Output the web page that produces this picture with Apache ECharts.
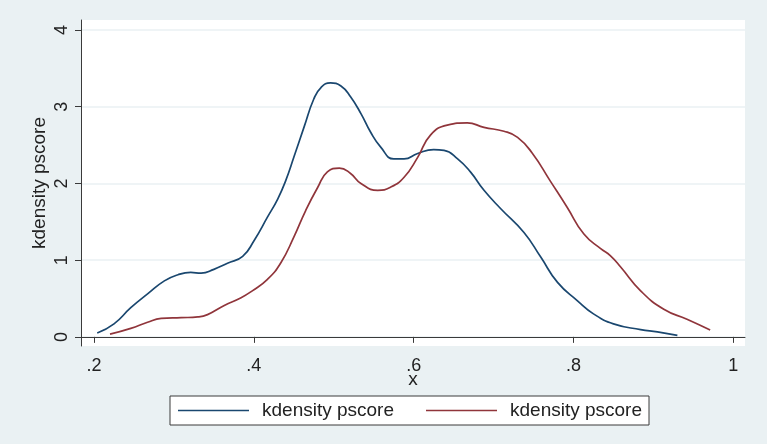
<!DOCTYPE html>
<html>
<head>
<meta charset="utf-8">
<script src="https://cdn.jsdelivr.net/npm/echarts@6/dist/echarts.min.js"></script>
<style>
  html, body { margin: 0; padding: 0; background: #ffffff; }
  #chart { width: 767px; height: 444px; }
</style>
</head>
<body>
<div id="chart"></div>
<script>
// Kernel density estimates of the propensity score, two groups
const seriesNames = ['kdensity pscore', 'kdensity pscore'];

const xTicks = [0.2, 0.4, 0.6, 0.8, 1];
const yTicks = [0, 1, 2, 3, 4];

// [pscore, density] pairs
const densityA = [
  [0.204, 0.05], [0.225, 0.17], [0.246, 0.38], [0.267, 0.56], [0.288, 0.73],
  [0.305, 0.81], [0.321, 0.84], [0.334, 0.83], [0.350, 0.88], [0.367, 0.96],
  [0.386, 1.05], [0.400, 1.25], [0.417, 1.56], [0.430, 1.80], [0.440, 2.04],
  [0.450, 2.34], [0.463, 2.74], [0.475, 3.10], [0.484, 3.25], [0.496, 3.31],
  [0.509, 3.27], [0.521, 3.13], [0.534, 2.91], [0.546, 2.67], [0.559, 2.47],
  [0.575, 2.32], [0.588, 2.32], [0.605, 2.39], [0.625, 2.44], [0.638, 2.43],
  [0.655, 2.32], [0.671, 2.15], [0.688, 1.91], [0.709, 1.67], [0.738, 1.36],
  [0.759, 1.04], [0.780, 0.71], [0.805, 0.47], [0.825, 0.30], [0.850, 0.17],
  [0.884, 0.095], [0.905, 0.065], [0.930, 0.02]
];

const densityB = [
  [0.220, 0.035], [0.246, 0.11], [0.267, 0.19], [0.284, 0.24], [0.309, 0.25],
  [0.330, 0.26], [0.342, 0.29], [0.363, 0.41], [0.384, 0.51], [0.398, 0.60],
  [0.417, 0.75], [0.434, 0.97], [0.450, 1.30], [0.465, 1.65], [0.480, 1.95],
  [0.492, 2.15], [0.507, 2.20], [0.521, 2.13], [0.534, 2.00], [0.555, 1.91],
  [0.571, 1.95], [0.588, 2.08], [0.605, 2.34], [0.621, 2.63], [0.642, 2.76],
  [0.667, 2.79], [0.688, 2.73], [0.713, 2.68], [0.730, 2.60], [0.748, 2.40],
  [0.771, 2.03], [0.792, 1.69], [0.813, 1.34], [0.834, 1.15], [0.846, 1.06],
  [0.859, 0.91], [0.884, 0.60], [0.913, 0.36], [0.942, 0.23], [0.971, 0.09]
];

const colors = ['#1a476f', '#90353b'];
const fontFamily = 'Liberation Sans, Arial, sans-serif';

// Stata-style tick text: drop the leading zero (".2", ".4", "1")
function tickText(v) {
  const s = String(Number(v.toFixed(2)));
  return s.replace(/^0\./, '.');
}

const chart = echarts.init(document.getElementById('chart'), null, { renderer: 'canvas' });

chart.setOption({
  animation: false,
  backgroundColor: '#eaf1f3',
  color: colors,
  grid: {
    left: 81, right: 22, top: 20, bottom: 98,
    show: true, backgroundColor: '#ffffff', borderWidth: 0
  },
  xAxis: {
    type: 'value',
    min: 0.1837, max: 1.0146,
    name: 'x',
    nameLocation: 'middle',
    nameGap: 24,
    nameMoveOverlap: false,
    nameTextStyle: { color: '#222', fontSize: 19, fontFamily },
    axisLine: { show: true, lineStyle: { color: '#3a3a3a', width: 1 } },
    axisTick: { show: true, length: 6, customValues: xTicks, lineStyle: { color: '#3a3a3a' } },
    axisLabel: {
      customValues: xTicks, margin: 11, color: '#222', fontSize: 18, fontFamily,
      formatter: tickText
    },
    splitLine: { show: false }
  },
  yAxis: {
    type: 'value',
    min: -0.119, max: 4.13,
    name: 'kdensity pscore',
    nameLocation: 'middle',
    nameGap: 32,
    nameMoveOverlap: false,
    nameRotate: 90,
    nameTextStyle: { color: '#222', fontSize: 19, fontFamily },
    axisLine: { show: true, lineStyle: { color: '#3a3a3a', width: 1 } },
    axisTick: { show: true, length: 6, customValues: yTicks, lineStyle: { color: '#3a3a3a' } },
    axisLabel: {
      customValues: yTicks, rotate: 90, margin: 10, color: '#222', fontSize: 18, fontFamily,
      formatter: tickText
    },
    splitLine: { show: true, lineStyle: { color: '#eaf1f3', width: 1.5 } }
  },
  legend: {
    left: 170, top: 396,
    padding: [5, 7, 5, 8],
    itemWidth: 71, itemHeight: 1.6, itemGap: 32,
    icon: 'rect',
    backgroundColor: '#ffffff',
    borderColor: '#3a3a3a', borderWidth: 1, borderRadius: 0,
    textStyle: { color: '#222', fontSize: 19, fontFamily, lineHeight: 18, padding: [0, 0, 0, 8] },
    data: [
      { name: 'A', icon: 'rect' },
      { name: 'B', icon: 'rect' }
    ],
    formatter: function (name) { return name === 'A' ? seriesNames[0] : seriesNames[1]; }
  },
  series: [
    {
      name: 'A', type: 'line', data: densityA, smooth: 0.5, showSymbol: false,
      lineStyle: { color: colors[0], width: 1.7 }, itemStyle: { color: colors[0] }
    },
    {
      name: 'B', type: 'line', data: densityB, smooth: 0.5, showSymbol: false,
      lineStyle: { color: colors[1], width: 1.7 }, itemStyle: { color: colors[1] }
    }
  ]
});
</script>
</body>
</html>
